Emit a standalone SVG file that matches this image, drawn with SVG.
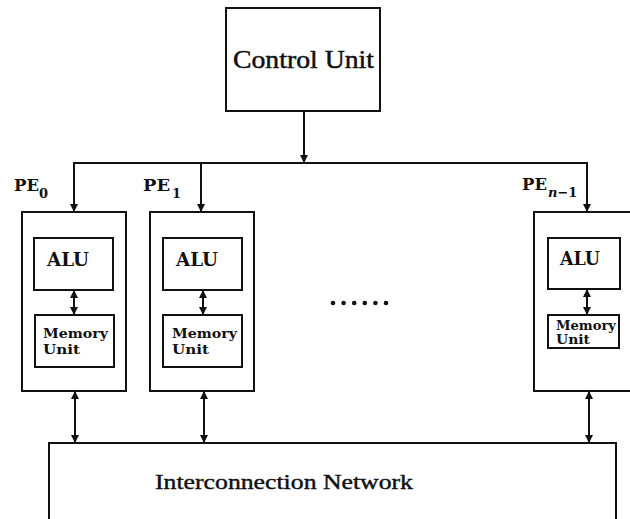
<svg xmlns="http://www.w3.org/2000/svg" width="630" height="519" viewBox="0 0 630 519">
  <style>
    .box { fill: #ffffff; stroke: #111111; stroke-width: 2; }
    .wire { fill: none; stroke: #111111; stroke-width: 2; }
    .big { font-family: "Liberation Serif", "DejaVu Serif", serif; font-size: 26px; fill: #111111; stroke: #111111; stroke-width: 0.5; }
    .net { font-family: "Liberation Serif", "DejaVu Serif", serif; font-size: 20px; fill: #111111; stroke: #111111; stroke-width: 0.4; }
    .alu { font-family: "DejaVu Serif", "Liberation Serif", serif; font-weight: bold; font-size: 18px; fill: #111111; }
    .mem { font-family: "DejaVu Serif", "Liberation Serif", serif; font-weight: bold; font-size: 13px; fill: #111111; }
    .pe { font-family: "DejaVu Serif", "Liberation Serif", serif; font-weight: bold; font-size: 16px; fill: #111111; }
    .sub { font-family: "DejaVu Serif", "Liberation Serif", serif; font-weight: bold; font-size: 13px; fill: #111111; }
  </style>
  <defs>
    <marker id="arrow" viewBox="0 0 10 10" refX="10" refY="5" markerWidth="9" markerHeight="8" markerUnits="userSpaceOnUse" orient="auto-start-reverse">
      <path d="M0,0 L10,5 L0,10 Z" fill="#111111"/>
    </marker>
  </defs>
  <rect width="630" height="519" fill="#ffffff"/>

  <!-- control unit -->
  <g id="control-unit">
    <rect class="box" x="226" y="8" width="154" height="103"/>
    <text class="big" x="233" y="68" textLength="141" lengthAdjust="spacingAndGlyphs">Control Unit</text>
  </g>

  <!-- processing element 0 -->
  <g id="pe0">
    <text class="pe" x="14" y="191" textLength="25" lengthAdjust="spacingAndGlyphs">PE</text>
    <text class="sub" x="39" y="198">0</text>
    <rect class="box" x="22" y="212" width="104" height="179"/>
    <g id="pe0-alu">
      <rect class="box" x="34" y="238" width="79" height="52"/>
      <text class="alu" x="47" y="266" textLength="42" lengthAdjust="spacingAndGlyphs">ALU</text>
    </g>
    <g id="pe0-mem">
      <rect class="box" x="35" y="315" width="79" height="52"/>
      <text class="mem" x="43" y="338" textLength="65" lengthAdjust="spacingAndGlyphs">Memory</text>
      <text class="mem" x="43" y="354" textLength="37" lengthAdjust="spacingAndGlyphs">Unit</text>
    </g>
  </g>

  <!-- processing element 1 -->
  <g id="pe1">
    <text class="pe" x="143" y="191" textLength="27" lengthAdjust="spacingAndGlyphs">PE</text>
    <text class="sub" x="172" y="198">1</text>
    <rect class="box" x="150" y="212" width="104" height="179"/>
    <g id="pe1-alu">
      <rect class="box" x="163" y="238" width="79" height="52"/>
      <text class="alu" x="176" y="266" textLength="42" lengthAdjust="spacingAndGlyphs">ALU</text>
    </g>
    <g id="pe1-mem">
      <rect class="box" x="163" y="315" width="79" height="52"/>
      <text class="mem" x="172" y="338" textLength="65" lengthAdjust="spacingAndGlyphs">Memory</text>
      <text class="mem" x="172" y="354" textLength="37" lengthAdjust="spacingAndGlyphs">Unit</text>
    </g>
  </g>

  <!-- ellipsis between PE1 and PE n-1 -->
  <g id="ellipsis" fill="#111111">
    <circle cx="333" cy="303" r="2.3"/>
    <circle cx="343.6" cy="303" r="2.3"/>
    <circle cx="354.2" cy="303" r="2.3"/>
    <circle cx="364.8" cy="303" r="2.3"/>
    <circle cx="375.4" cy="303" r="2.3"/>
    <circle cx="386" cy="303" r="2.3"/>
  </g>

  <!-- processing element n-1 -->
  <g id="pe-last">
    <text class="pe" x="522" y="190" textLength="25" lengthAdjust="spacingAndGlyphs">PE</text>
    <text class="sub" x="548" y="197"><tspan font-style="italic">n</tspan>−1</text>
    <rect class="box" x="534" y="212" width="110" height="179"/>
    <g id="pe-last-alu">
      <rect class="box" x="548" y="238" width="72" height="51"/>
      <text class="alu" x="560" y="265" textLength="40" lengthAdjust="spacingAndGlyphs">ALU</text>
    </g>
    <g id="pe-last-mem">
      <rect class="box" x="548" y="315" width="71" height="33"/>
      <text class="mem" x="556" y="330" textLength="60" lengthAdjust="spacingAndGlyphs">Memory</text>
      <text class="mem" x="556" y="344" textLength="34" lengthAdjust="spacingAndGlyphs">Unit</text>
    </g>
  </g>

  <!-- interconnection network -->
  <g id="network">
    <rect class="box" x="49" y="443" width="567" height="100"/>
    <text class="net" x="155" y="489" textLength="258" lengthAdjust="spacingAndGlyphs">Interconnection Network</text>
  </g>

  <!-- connectors -->
  <g id="connectors">
    <!-- control unit to broadcast bus -->
    <line class="wire" x1="304" y1="111" x2="304" y2="163" marker-end="url(#arrow)"/>
    <!-- broadcast bus -->
    <polyline class="wire" points="74,212 74,163 587,163 587,212"/>
    <line class="wire" x1="74" y1="163" x2="74" y2="212" marker-end="url(#arrow)"/>
    <line class="wire" x1="201" y1="163" x2="201" y2="212" marker-end="url(#arrow)"/>
    <line class="wire" x1="587" y1="163" x2="587" y2="212" marker-end="url(#arrow)"/>
    <!-- ALU to memory links -->
    <line class="wire" x1="74" y1="290" x2="74" y2="315" marker-start="url(#arrow)" marker-end="url(#arrow)"/>
    <line class="wire" x1="203" y1="290" x2="203" y2="315" marker-start="url(#arrow)" marker-end="url(#arrow)"/>
    <line class="wire" x1="587" y1="289" x2="587" y2="315" marker-start="url(#arrow)" marker-end="url(#arrow)"/>
    <!-- PE to network links -->
    <line class="wire" x1="75" y1="391" x2="75" y2="443" marker-start="url(#arrow)" marker-end="url(#arrow)"/>
    <line class="wire" x1="204" y1="391" x2="204" y2="443" marker-start="url(#arrow)" marker-end="url(#arrow)"/>
    <line class="wire" x1="589" y1="391" x2="589" y2="443" marker-start="url(#arrow)" marker-end="url(#arrow)"/>
  </g>
</svg>
